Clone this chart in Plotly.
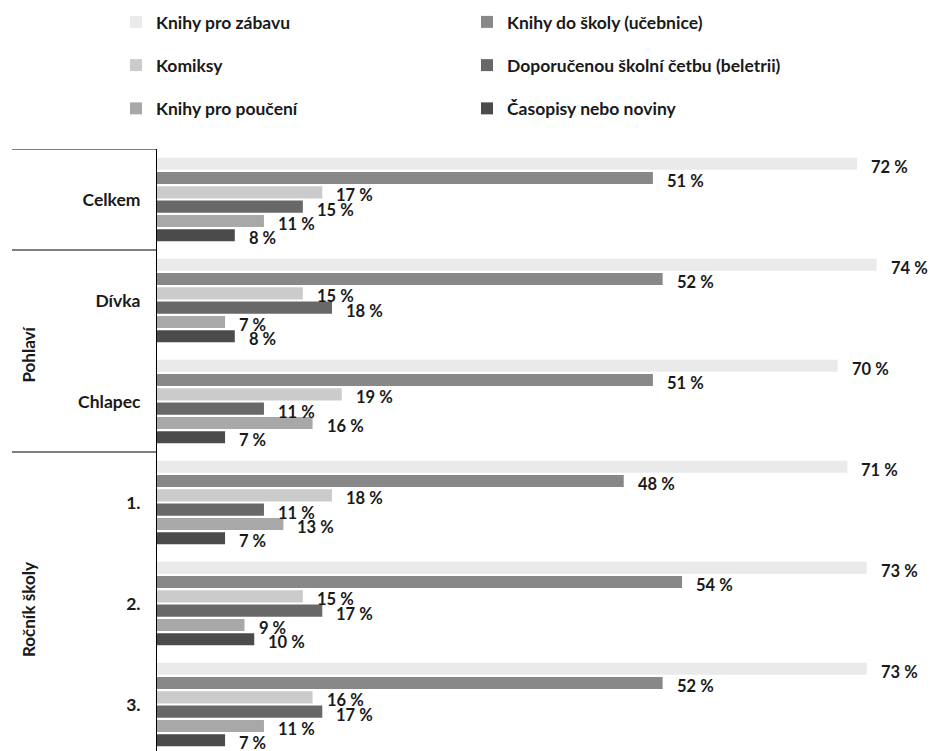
import plotly.graph_objects as go

categories = ["Celkem", "Dívka", "Chlapec", "1.", "2.", "3."]
series_names = [
    "Knihy pro zábavu",
    "Knihy do školy (učebnice)",
    "Komiksy",
    "Doporučenou školní četbu (beletrii)",
    "Knihy pro poučení",
    "Časopisy nebo noviny",
]
zabavu = [72, 74, 70, 71, 73, 73]
ucebnice = [51, 52, 51, 48, 54, 52]
komiksy = [17, 15, 19, 18, 15, 16]
cetba = [15, 18, 11, 11, 17, 17]
pouceni = [11, 7, 16, 13, 9, 11]
casopisy = [8, 8, 7, 7, 10, 7]
series_values = [zabavu, ucebnice, komiksy, cetba, pouceni, casopisy]
colors = ["#eaeaea", "#888888", "#cbcbcb", "#686868", "#a8a8a8", "#4b4b4b"]
legend_ids = ["legend", "legend2", "legend", "legend2", "legend", "legend2"]
group_labels = ["Pohlaví", "Ročník školy"]

FONT = "Lato, 'Open Sans', 'DejaVu Sans', sans-serif"
TXT = "#1a1a1a"
BARGAP = 0.15
BARGROUPGAP = 0.15

fig = go.Figure()
for k, (name, vals) in enumerate(zip(series_names, series_values)):
    fig.add_trace(go.Bar(
        name=name,
        x=vals,
        y=categories,
        orientation="h",
        marker=dict(color=colors[k], line=dict(width=0)),
        legend=legend_ids[k],
        legendgroup=f"g{k}",
        hoverinfo="x+name",
    ))

# value labels placed next to each bar end
n = len(series_names)
slot = (1 - BARGAP) / n
annotations = []
for k, vals in enumerate(series_values):
    for i, v in enumerate(vals):
        annotations.append(dict(
            x=v, y=i + (k - (n - 1) / 2) * slot,
            xref="x", yref="y",
            text=f"{v} %", showarrow=False,
            xanchor="left", yanchor="middle",
            xshift=12, yshift=-3,
            font=dict(family=FONT, size=16.5, color=TXT, weight="bold"),
        ))

left_px = 157
top_px = 149
plot_w = 931 - left_px
plot_h = 751 - top_px

# group labels (rotated)
gx = (28.5 - left_px) / plot_w
annotations.append(dict(x=gx, y=1.53, xref="paper", yref="y", text=group_labels[0],
                        showarrow=False, textangle=-90, xanchor="center", yanchor="middle",
                        font=dict(family=FONT, size=17, color=TXT, weight="bold")))
annotations.append(dict(x=gx, y=4.06, xref="paper", yref="y", text=group_labels[1],
                        showarrow=False, textangle=-90, xanchor="center", yanchor="middle",
                        font=dict(family=FONT, size=17, color=TXT, weight="bold")))

# separator lines in the label column
sx0 = (12 - left_px) / plot_w
shapes = []
for yv in [-0.5, 0.5, 2.5]:
    shapes.append(dict(type="line", xref="paper", yref="y", x0=sx0, x1=0, y0=yv, y1=yv,
                       line=dict(color="#000000", width=1)))

legend_common = dict(
    orientation="v", bgcolor="rgba(0,0,0,0)", borderwidth=0,
    font=dict(family=FONT, size=17.5, color=TXT, weight="bold"),
    tracegroupgap=17.5, xanchor="left", yanchor="top",
    xref="paper", yref="paper",
)
leg_y = (751 - 4) / plot_h

fig.update_layout(
    width=931, height=751,
    margin=dict(l=left_px, r=0, t=top_px, b=0, autoexpand=False),
    paper_bgcolor="white", plot_bgcolor="white",
    barmode="group", bargap=BARGAP, bargroupgap=BARGROUPGAP,
    showlegend=True,
    legend=dict(**legend_common, x=(116 - left_px) / plot_w, y=leg_y),
    legend2=dict(**legend_common, x=(467 - left_px) / plot_w, y=leg_y),
    xaxis=dict(range=[0, 79.6], visible=False, showgrid=False, zeroline=False),
    yaxis=dict(
        type="category", categoryorder="array", categoryarray=categories,
        range=[-0.5 + plot_h / 101, -0.5],
        showline=True, linecolor="#000000", linewidth=1,
        ticks="", ticklabelstandoff=12, showgrid=False, zeroline=False,
        tickfont=dict(family=FONT, size=17.5, color=TXT, weight="bold"),
    ),
    annotations=annotations,
    shapes=shapes,
)

fig.write_html(
    "out.html",
    config={"displayModeBar": False},
    post_script="document.body.style.margin='0';document.body.style.overflow='hidden';",
)
